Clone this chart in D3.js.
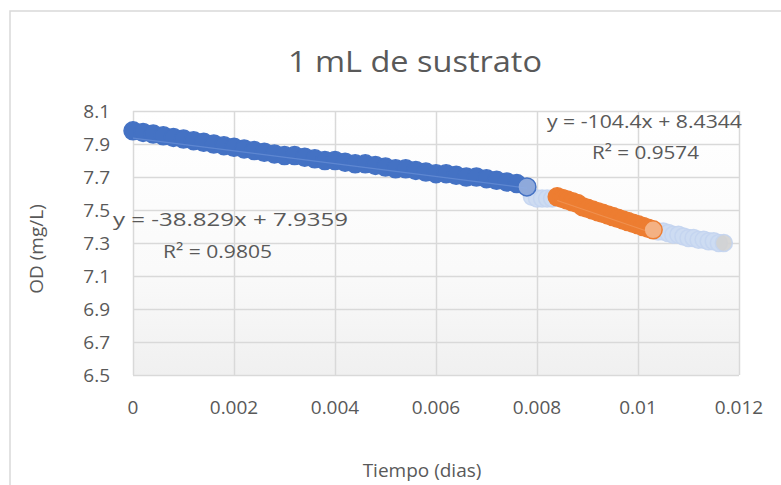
<!DOCTYPE html>
<html><head><meta charset="utf-8">
<script src="https://cdn.jsdelivr.net/npm/d3@7"></script>
<style>
body{margin:0;background:#fff;}
text{font-family:"Open Sans",sans-serif;fill:#595959;}
</style>
</head><body>
<svg id="c" width="781" height="485"></svg>
<script>
// ---- data ----
const blueTime = [0,0.0002,0.0004,0.0006,0.0008,0.0010,0.0012,0.0014,0.0016,0.0018,0.0020,0.0022,0.0024,0.0026,0.0028,0.0030,0.0032,0.0034,0.0036,0.0038,0.0040,0.0042,0.0044,0.0046,0.0048,0.0050,0.0052,0.0054,0.0056,0.0058,0.0060,0.0062,0.0064,0.0066,0.0068,0.0070,0.0072,0.0074,0.0076,0.0078];
const blueOD   = [7.98,7.97,7.96,7.95,7.94,7.93,7.92,7.91,7.90,7.89,7.88,7.87,7.86,7.85,7.84,7.83,7.83,7.82,7.81,7.80,7.80,7.79,7.78,7.78,7.77,7.76,7.75,7.75,7.74,7.73,7.72,7.72,7.71,7.70,7.70,7.69,7.68,7.67,7.66,7.64];
const orangeTime = [0.0084,0.0085,0.0086,0.0087,0.0088,0.0089,0.0090,0.0091,0.0092,0.0093,0.0094,0.0095,0.0096,0.0097,0.0098,0.0099,0.0100,0.0101,0.0102,0.0103];
const orangeOD   = [7.58,7.57,7.56,7.55,7.54,7.52,7.51,7.50,7.49,7.48,7.47,7.46,7.45,7.44,7.43,7.42,7.41,7.40,7.39,7.38];
const lightTime = [0.0079,0.0080,0.0081,0.0082,0.0083,0.0104,0.0105,0.0106,0.0107,0.0108,0.0109,0.0110,0.0111,0.0112,0.0113,0.0114,0.0115,0.0116,0.0117];
const lightOD   = [7.58,7.57,7.57,7.57,7.57,7.37,7.37,7.36,7.35,7.35,7.34,7.33,7.33,7.32,7.32,7.31,7.31,7.30,7.30];
const xTicks = [0,0.002,0.004,0.006,0.008,0.01,0.012];
const xTickLabels = ["0","0.002","0.004","0.006","0.008","0.01","0.012"];
const yTicks = [6.5,6.7,6.9,7.1,7.3,7.5,7.7,7.9,8.1];
const yTickLabels = ["6.5","6.7","6.9","7.1","7.3","7.5","7.7","7.9","8.1"];
const blueFit = {slope:-38.829, intercept:7.9359, r2:"0.9805", eq:"y = -38.829x + 7.9359"};
const orangeFit = {slope:-104.4, intercept:8.4344, r2:"0.9574", eq:"y = -104.4x + 8.4344"};
const title = "1 mL de sustrato";
const xTitle = "Tiempo (dias)";
const yTitle = "OD (mg/L)";

// ---- layout ----
const L=133, R=739, T=111, B=375;
const svg = d3.select("#c");
const x = d3.scaleLinear().domain([0,0.012]).range([L,R]);
const y = d3.scaleLinear().domain([6.5,8.1]).range([B,T]);

// chart border
svg.append("rect").attr("x",10).attr("y",11).attr("width",800).attr("height",500)
  .attr("fill","#fff").attr("stroke","#d9d9d9").attr("stroke-width",1.5);

// plot background gradient
const defs = svg.append("defs");
const g = defs.append("linearGradient").attr("id","pg").attr("x1",0).attr("y1",0).attr("x2",0).attr("y2",1);
g.append("stop").attr("offset","0%").attr("stop-color","#ffffff");
g.append("stop").attr("offset","60%").attr("stop-color","#fafafa");
g.append("stop").attr("offset","100%").attr("stop-color","#f0f0f0");
svg.append("rect").attr("x",L).attr("y",T).attr("width",R-L).attr("height",B-T).attr("fill","url(#pg)");

// gridlines via axes
svg.append("g").attr("transform",`translate(0,${B})`)
  .call(d3.axisBottom(x).tickValues(xTicks).tickSize(-(B-T)).tickFormat(""))
  .call(a=>a.select(".domain").remove())
  .call(a=>a.selectAll("line").attr("stroke","#d9d9d9").attr("stroke-width",1.5));
svg.append("g").attr("transform",`translate(${L},0)`)
  .call(d3.axisLeft(y).tickValues(yTicks).tickSize(-(R-L)).tickFormat(""))
  .call(a=>a.select(".domain").remove())
  .call(a=>a.selectAll("line").attr("stroke","#d9d9d9").attr("stroke-width",1.5));

// tick labels
svg.append("g").selectAll("text").data(xTicks).join("text")
  .attr("x",d=>x(d)).attr("y",414).attr("text-anchor","middle")
  .attr("font-size",19).text((d,i)=>xTickLabels[i]);
svg.append("g").selectAll("text").data(yTicks).join("text")
  .attr("x",110).attr("y",d=>y(d)+7).attr("text-anchor","end")
  .attr("font-size",19).text((d,i)=>yTickLabels[i]);

// titles
svg.append("text").attr("x",415).attr("y",72).attr("text-anchor","middle")
  .attr("font-size",29).attr("textLength",254).attr("lengthAdjust","spacingAndGlyphs").text(title);
svg.append("text").attr("x",422).attr("y",477).attr("text-anchor","middle")
  .attr("font-size",19).text(xTitle);
svg.append("text").attr("transform","translate(43,249) rotate(-90)").attr("text-anchor","middle")
  .attr("font-size",19).text(yTitle);

// series
function drawSeries(tArr, vArr, fill, stroke, lastFill, op, r){
  const data = tArr.map((t,i)=>({t, v:vArr[i]}));
  const gg = svg.append("g");
  gg.selectAll("circle").data(data).join("circle")
    .attr("cx",d=>x(d.t)).attr("cy",d=>y(d.v)).attr("r",r)
    .attr("fill",(d,i)=> i===data.length-1 ? lastFill : fill)
    .attr("fill-opacity",op)
    .attr("stroke",stroke).attr("stroke-width",1.5).attr("stroke-opacity",op);
}
drawSeries(lightTime, lightOD, "#cddbf2", "#c3d4f0", "#d2d2d2", 0.9, 8.5);
drawSeries(blueTime, blueOD, "#4472c4", "#4472c4", "#8ea9db", 1, 9);
drawSeries(orangeTime, orangeOD, "#ed7d31", "#ed7d31", "#f4b183", 1, 9);

// trendlines
function trend(fit, t0, t1, col){
  svg.append("line").attr("x1",x(t0)).attr("y1",y(fit.intercept+fit.slope*t0))
    .attr("x2",x(t1)).attr("y2",y(fit.intercept+fit.slope*t1))
    .attr("stroke",col).attr("stroke-width",1.2).attr("stroke-opacity",0.35);
}
trend(blueFit, blueTime[0], blueTime[blueTime.length-1], "#8fb0ea");
trend(orangeFit, orangeTime[0], orangeTime[orangeTime.length-1], "#f7b486");

// equations
svg.append("text").attr("x",547).attr("y",128).attr("font-size",19)
  .attr("textLength",195).attr("lengthAdjust","spacingAndGlyphs").text(orangeFit.eq);
svg.append("text").attr("x",592).attr("y",159).attr("font-size",19)
  .attr("textLength",107).attr("lengthAdjust","spacingAndGlyphs").text("R² = "+orangeFit.r2);
svg.append("text").attr("x",113).attr("y",226).attr("font-size",19)
  .attr("textLength",235).attr("lengthAdjust","spacingAndGlyphs").text(blueFit.eq);
svg.append("text").attr("x",163).attr("y",258).attr("font-size",19)
  .attr("textLength",109).attr("lengthAdjust","spacingAndGlyphs").text("R² = "+blueFit.r2);
</script>
</body></html>
